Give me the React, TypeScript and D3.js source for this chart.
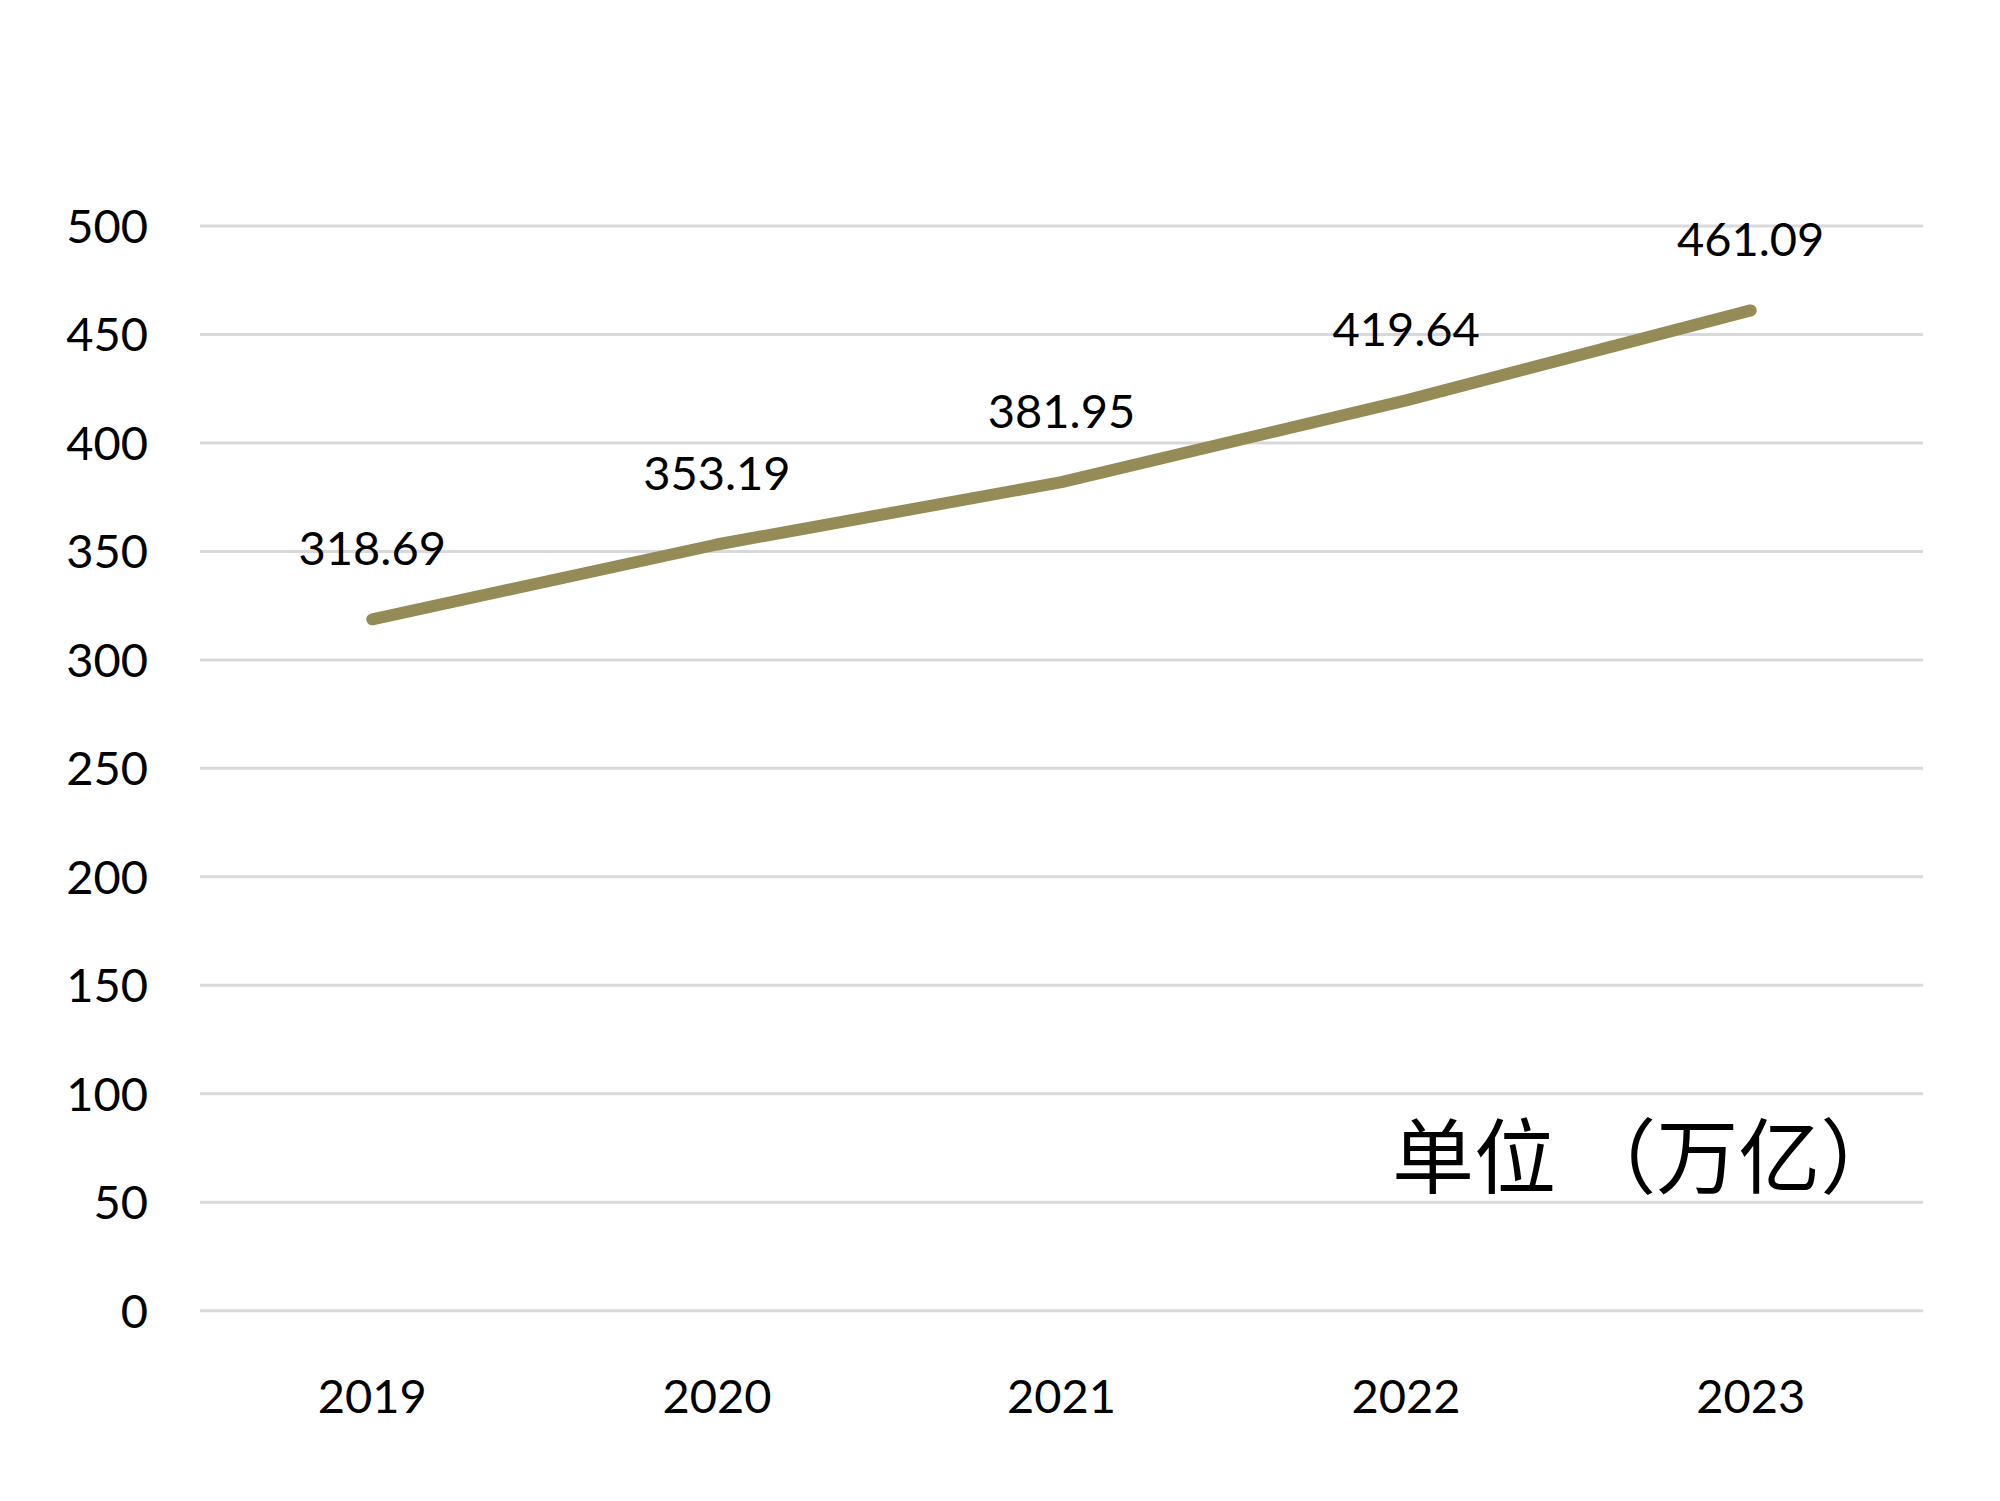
import React, { useEffect } from "react";
import * as d3 from "d3";

const years = ["2019", "2020", "2021", "2022", "2023"];
const values = [318.69, 353.19, 381.95, 419.64, 461.09];
const yTicks = [0, 50, 100, 150, 200, 250, 300, 350, 400, 450, 500];
const unitLabel = "单位 （万亿）";

const W = 2000;
const H = 1501;

export default function App() {
  useEffect(() => {
    document.body.style.margin = "0";
  }, []);

  const x = d3.scaleBand<string>().domain(years).range([200, 1923]);
  const y = d3.scaleLinear().domain([0, 500]).range([1310.7, 226]);
  const cx = (d: string) => (x(d) as number) + x.bandwidth() / 2;

  const line = d3
    .line<number>()
    .x((_, i) => cx(years[i]))
    .y((v) => y(v));

  const font = "Lato, 'Open Sans', sans-serif";

  return (
    <svg width={W} height={H} viewBox={`0 0 ${W} ${H}`} style={{ display: "block", background: "#fff" }}>
      <rect x={0} y={0} width={W} height={H} fill="#fff" />
      {yTicks.map((t) => (
        <g key={t}>
          <line x1={200} x2={1923} y1={y(t)} y2={y(t)} stroke="#d9d9d9" strokeWidth={3} />
          <text
            x={148}
            y={y(t)}
            dy="0.36em"
            textAnchor="end"
            fontFamily={font}
            fontSize={47}
            fill="#000"
          >
            {t}
          </text>
        </g>
      ))}
      {years.map((yr) => (
        <text
          key={yr}
          x={cx(yr)}
          y={1413}
          textAnchor="middle"
          fontFamily={font}
          fontSize={47}
          fill="#000"
        >
          {yr}
        </text>
      ))}
      <path
        d={line(values) || ""}
        fill="none"
        stroke="#958b56"
        strokeWidth={12}
        strokeLinecap="round"
        strokeLinejoin="round"
      />
      {values.map((v, i) => (
        <text
          key={i}
          x={cx(years[i])}
          y={y(v) - 54}
          textAnchor="middle"
          fontFamily={font}
          fontSize={47}
          fill="#000"
        >
          {v.toFixed(2)}
        </text>
      ))}
      <text
        x={1392}
        y={1187}
        fontFamily="'Noto Sans CJK SC', sans-serif"
        fontSize={82}
        fill="#000"
      >
        {unitLabel}
      </text>
    </svg>
  );
}
